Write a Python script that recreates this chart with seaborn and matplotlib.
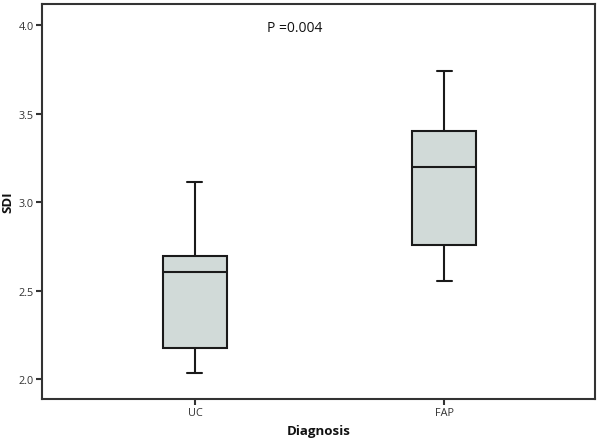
import numpy as np
import pandas as pd
import seaborn as sns
import matplotlib
matplotlib.use("Agg")
import matplotlib.pyplot as plt
from matplotlib.ticker import FormatStrFormatter

# Data: five-number summaries (min, Q1, median, Q3, max)
categories = ["UC", "FAP"]
uc_values = [2.034, 2.177, 2.605, 2.693, 3.111]
fap_values = [2.552, 2.757, 3.198, 3.403, 3.738]
y_ticks = [2.0, 2.5, 3.0, 3.5, 4.0]
p_text = "P =0.004"

df = pd.DataFrame({
    "Diagnosis": [categories[0]] * len(uc_values) + [categories[1]] * len(fap_values),
    "SDI": uc_values + fap_values,
})

sns.set_theme(style="white")
plt.rcParams["font.family"] = ["Open Sans", "DejaVu Sans"]

fig = plt.figure(figsize=(6.0, 4.39), dpi=100)
ax = fig.add_axes([0.07, 0.0888, 0.9217, 0.8998])

frame_col = "#333333"
sns.boxplot(
    data=df, x="Diagnosis", y="SDI", order=categories, ax=ax,
    whis=(0, 100), width=0.255, color="#d1dad8", saturation=1,
    linecolor="#1a1a1a", linewidth=1.5, fliersize=0,
    capwidths=0.06,
)
for p in ax.patches:
    p.set_facecolor("#d1dad8")

ax.set_xlim(-0.614, 1.606)
ax.set_ylim(1.887, 4.119)
ax.set_yticks(y_ticks)
ax.yaxis.set_major_formatter(FormatStrFormatter("%.1f"))

for s in ax.spines.values():
    s.set_visible(True)
    s.set_color(frame_col)
    s.set_linewidth(1.5)

ax.tick_params(axis="both", which="major", direction="out", length=4, width=1.5,
               color=frame_col, labelsize=7.8, labelcolor="#333333", pad=2,
               left=True, bottom=True)

ax.set_xlabel("Diagnosis", fontsize=9.5, fontweight="bold", color="#111111", labelpad=4)
ax.set_ylabel("SDI", fontsize=9.5, fontweight="bold", color="#111111", labelpad=3)

ax.text(0.4, 3.989, p_text, ha="center", va="center", fontsize=10, color="#111111")

fig.savefig("out.png", dpi=100)
